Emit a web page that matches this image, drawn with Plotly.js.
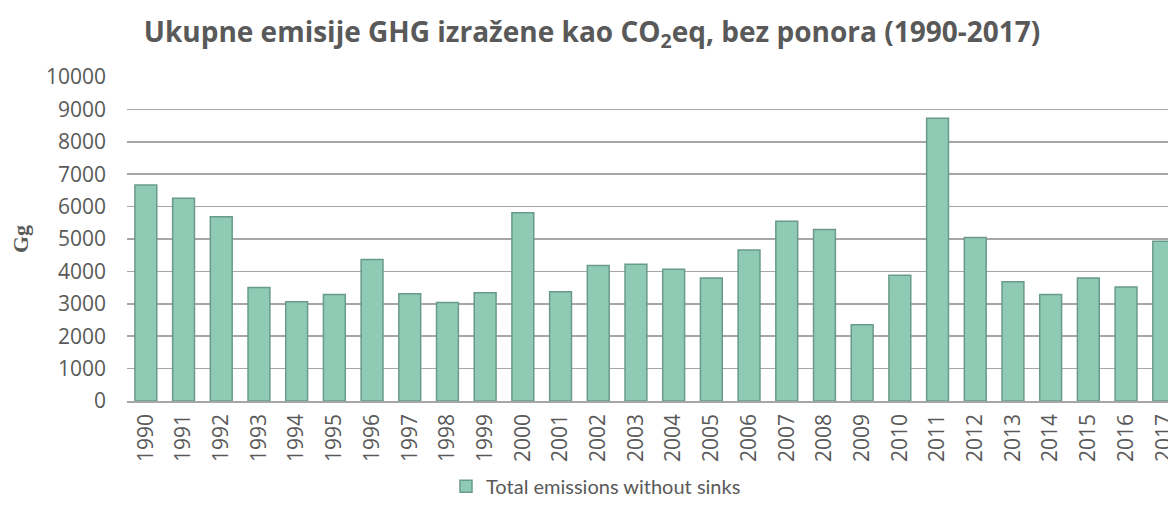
<!DOCTYPE html>
<html>
<head>
<meta charset="utf-8">
<script src="https://cdn.plot.ly/plotly-3.0.1.min.js"></script>
<style>
  html, body { margin: 0; padding: 0; background: #ffffff; overflow: hidden; }
  #chart { width: 1168px; height: 506px; }
</style>
</head>
<body>
<div id="chart"></div>
<script>
const years = ["1990","1991","1992","1993","1994","1995","1996","1997","1998","1999",
  "2000","2001","2002","2003","2004","2005","2006","2007","2008","2009",
  "2010","2011","2012","2013","2014","2015","2016","2017"];
const totalEmissions = [6670, 6260, 5690, 3500, 3060, 3290, 4370, 3310, 3040, 3340,
  5810, 3370, 4180, 4220, 4070, 3800, 4660, 5550, 5290, 2350,
  3880, 8730, 5050, 3680, 3290, 3800, 3520, 4930];
const yTicks = [0, 1000, 2000, 3000, 4000, 5000, 6000, 7000, 8000, 9000, 10000];
const seriesName = "Total emissions without sinks";
const chartTitle = "Ukupne emisije GHG izražene kao CO<sub>2</sub>eq, bez ponora (1990-2017)";
const yTitle = "Gg";

const textColor = "#595959";
const tickFont = { family: "'Open Sans', sans-serif", size: 21, color: textColor };

const trace = {
  type: "bar",
  x: years,
  y: totalEmissions,
  name: seriesName,
  marker: { color: "#8ecab4", line: { color: "#6a9a8a", width: 1.5 } },
  showlegend: true,
  hoverinfo: "x+y"
};

const plotLeft = 127, plotWidth = 1168 - 127;
const catWidth = 37.7;

const layout = {
  width: 1168,
  height: 506,
  margin: { l: plotLeft, r: 0, t: 77, b: 102 },
  paper_bgcolor: "#ffffff",
  plot_bgcolor: "#ffffff",
  bargap: 0.42,
  title: {
    text: chartTitle,
    font: { family: "'Open Sans', sans-serif", size: 28, color: textColor, weight: 700 },
    x: 592 / 1168, xref: "container", xanchor: "center",
    y: 1 - 32 / 506, yref: "container", yanchor: "middle"
  },
  xaxis: {
    type: "category",
    range: [-0.5, -0.5 + plotWidth / catWidth],
    tickangle: -90,
    tickfont: tickFont,
    ticklabelstandoff: 3,
    showgrid: false,
    showline: true,
    linecolor: "#a6a6a6",
    linewidth: 1.5,
    ticks: "",
    zeroline: false
  },
  yaxis: {
    range: [0, 10000],
    tickvals: yTicks,
    ticktext: yTicks.map(String),
    tickfont: tickFont,
    ticklabelstandoff: 20,
    showgrid: true,
    gridcolor: "#a6a6a6",
    gridwidth: 1.5,
    zeroline: false,
    showline: false,
    ticks: ""
  },
  annotations: [{
    text: "<b>" + yTitle + "</b>",
    xref: "paper", yref: "paper",
    x: (20 - plotLeft) / plotWidth, y: 0.5,
    xanchor: "center", yanchor: "middle",
    textangle: -90,
    showarrow: false,
    font: { family: "'Liberation Serif', serif", size: 22, color: textColor }
  }],
  legend: {
    orientation: "h",
    x: (596 - plotLeft) / plotWidth, xanchor: "center",
    y: (404 - 490) / 327, yanchor: "middle",
    font: { family: "Lato, sans-serif", size: 20, color: textColor },
    itemwidth: 30,
    bgcolor: "rgba(0,0,0,0)"
  },
  font: { family: "'Open Sans', sans-serif", color: textColor }
};

Plotly.newPlot("chart", [trace], layout, { displayModeBar: false, staticPlot: true });
</script>
</body>
</html>
